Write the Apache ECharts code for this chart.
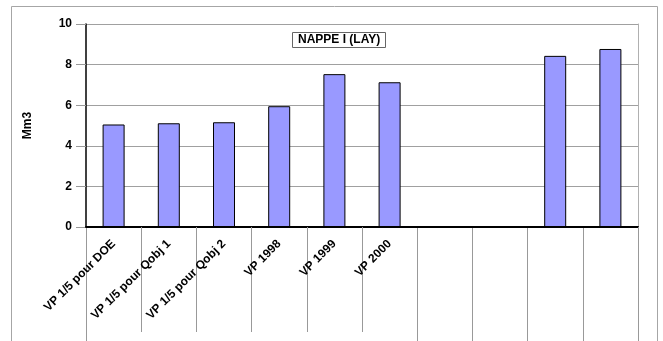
<!DOCTYPE html>
<html>
<head>
<meta charset="utf-8">
<script src="https://cdn.jsdelivr.net/npm/echarts@6/dist/echarts.min.js"></script>
<style>
  html, body { margin: 0; padding: 0; background: #fff; }
  #chart { width: 663px; height: 341px; }
</style>
</head>
<body>
<div id="chart"></div>
<script>
// Volumes prélevables, nappe I (LAY), en Mm3
const categories = [
  'VP 1/5 pour DOE', 'VP 1/5 pour Qobj 1', 'VP 1/5 pour Qobj 2',
  'VP 1998', 'VP 1999', 'VP 2000', '', '', '', ''
];
const volumes = [5.05, 5.11, 5.16, 5.95, 7.53, 7.13, 0, 0.04, 8.43, 8.77];
const yTicks = [0, 2, 4, 6, 8, 10];
const chartTitle = 'NAPPE I (LAY)';
const yName = 'Mm3';

// Separators under the labelled columns are shorter than the outer ones
const shortSep = [1, 2, 3, 4, 5];

const FONT = 'Liberation Sans, Arial, sans-serif';
const GRID = { left: 86, right: 25, top: 24, bottom: 114 };

const chart = echarts.init(document.getElementById('chart'), null, { renderer: 'canvas' });

chart.setOption({
  animation: false,
  backgroundColor: '#fff',
  graphic: [{
    type: 'rect',
    shape: { x: 11.5, y: 6.5, width: 646, height: 400 },
    style: { fill: 'none', stroke: '#a6a6a6', lineWidth: 1 },
    silent: true
  }],
  title: {
    text: chartTitle,
    left: 292,
    top: 32,
    padding: [2, 6],
    borderColor: '#666',
    borderWidth: 1,
    backgroundColor: '#fff',
    textStyle: { fontFamily: FONT, fontSize: 12, fontWeight: 'bold', color: '#000', lineHeight: 12 }
  },
  grid: [
    Object.assign({}, GRID),
    Object.assign({}, GRID)
  ],
  xAxis: [{
    type: 'category',
    gridIndex: 0,
    data: categories,
    boundaryGap: true,
    axisLine: { show: true, lineStyle: { color: '#000', width: 2 } },
    axisTick: {
      show: true, length: 105,
      interval: (i) => shortSep.indexOf(i) >= 0,
      lineStyle: { color: '#999', width: 1 }
    },
    axisLabel: {
      interval: 0, rotate: 45, margin: 15,
      fontFamily: FONT, fontSize: 12, fontWeight: 'bold', color: '#000'
    },
    splitLine: { show: false },
    z: 5
  }, {
    type: 'category',
    gridIndex: 1,
    data: categories,
    boundaryGap: true,
    axisLine: { show: false },
    axisTick: {
      show: true, length: 120,
      interval: (i) => shortSep.indexOf(i) < 0,
      lineStyle: { color: '#999', width: 1 }
    },
    axisLabel: { show: false },
    splitLine: { show: false }
  }],
  yAxis: [{
    type: 'value',
    gridIndex: 0,
    min: yTicks[0],
    max: yTicks[yTicks.length - 1],
    interval: yTicks[1] - yTicks[0],
    name: yName,
    nameLocation: 'middle',
    nameRotate: 90,
    nameGap: 52,
    nameTextStyle: { fontFamily: FONT, fontSize: 12, fontWeight: 'bold', color: '#000' },
    axisLine: { show: true, lineStyle: { color: '#000', width: 1.5 } },
    axisTick: { show: true, inside: false, length: 10, lineStyle: { color: '#999' } },
    axisLabel: { margin: 14, fontFamily: FONT, fontSize: 12, fontWeight: 'bold', color: '#000' },
    splitLine: { show: true, lineStyle: { color: '#a0a0a0', width: 1 } }
  }, {
    type: 'value',
    gridIndex: 1,
    position: 'right',
    min: yTicks[0],
    max: yTicks[yTicks.length - 1],
    interval: yTicks[1] - yTicks[0],
    axisLine: { show: true, lineStyle: { color: '#b0b0b0', width: 1 } },
    axisTick: { show: false },
    axisLabel: { show: false },
    splitLine: { show: false }
  }],
  series: [{
    type: 'bar',
    xAxisIndex: 0,
    yAxisIndex: 0,
    data: volumes,
    barWidth: 22,
    itemStyle: { color: '#9999ff', borderColor: '#000', borderWidth: 1 },
    z: 3
  }]
});
</script>
</body>
</html>
